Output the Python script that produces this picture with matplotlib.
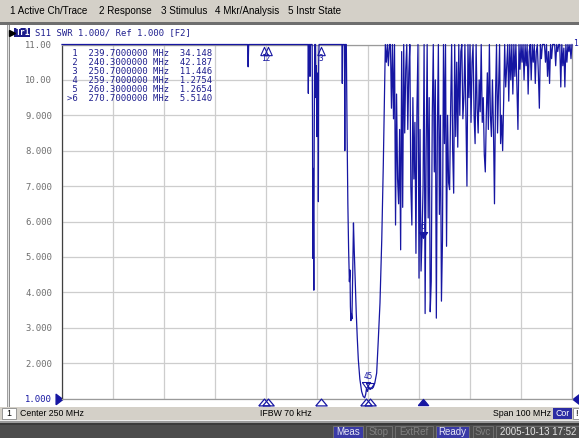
import numpy as np
import matplotlib
matplotlib.use("Agg")
import matplotlib.pyplot as plt
from matplotlib.patches import Rectangle
from matplotlib.transforms import ScaledTranslation

# S11 SWR sweep 200..300 MHz, values > 11 are off scale
start_mhz = 200.0
stop_mhz = 300.0
ref_swr = 1.0
scale_swr = 1.0

low_freq = [200.0, 236.4, 236.5, 236.6,
            248.25, 248.30, 248.36, 248.58, 248.63, 248.70,
            249.05, 249.12, 249.17, 249.24, 249.30, 249.38, 249.45, 249.55,
            249.72, 249.80, 249.88, 249.96, 250.03, 250.10, 250.20, 250.27, 250.33, 250.40,
            254.90, 254.96, 255.02, 255.38, 255.45, 255.52,
            255.75, 255.90, 256.05, 256.20, 256.35, 256.47, 256.55, 256.65, 256.75, 256.85,
            257.00, 257.15, 257.30, 257.50, 257.70, 257.90, 258.10, 258.40, 258.75, 259.05,
            259.35, 259.55, 259.70, 259.90, 260.10, 260.30, 260.55, 260.80, 261.05, 261.35,
            261.70, 262.00, 262.35, 262.70, 263.00]
low_swr = [12, 12, 10.37, 12,
           12, 9.62, 12, 12, 10.1, 12,
           12, 8.96, 4.96, 7.5, 5.8, 4.06, 8.2, 12,
           12, 9.5, 10.4, 8.4, 9.8, 8.9, 10.2, 6.56, 10.5, 12,
           12, 9.9, 12, 12, 8.0, 12,
           12, 8.5, 6.5, 5.2, 4.3, 4.63, 3.6, 3.2, 3.4, 3.25,
           4.5, 5.96, 5.2, 4.3, 3.4, 2.7, 2.1, 1.55, 1.2, 1.06,
           1.02, 1.12, 1.2754, 1.2, 1.32, 1.2654, 1.3, 1.28, 1.32, 1.45,
           1.72, 2.6, 3.7, 5.5, 7.6]

# ripple part of the sweep, 0.2 MHz per point from 263.4 to 300 MHz
ripple_start = 263.4
ripple_stop = 300.0
ripple_swr = [
    12, 10.5, 12,
    10.4, 12, 11.2, 9.2, 12,
    8.9, 11.0, 5.9, 9.6, 7.2,
    6.5, 8.6, 5.2, 10.8, 6.4,
    12, 8.5, 10.3, 12, 8.6,
    10.2, 12, 7.0, 5.9, 9.5,
    7.2, 8.8, 5.1, 9.2, 12,
    4.4, 8.6, 4.6, 5.6, 7.0,
    12, 3.4, 8.0, 12, 6.1,
    9.5, 3.45, 4.3, 9.0, 12,
    7.4, 10.0, 3.27, 8.5, 12,
    6.2, 9.0, 3.75, 5.45, 12,
    8.2, 11.0, 5.3, 9.0, 7.1,
    6.9, 9.2, 12, 8.0, 6.8,
    12, 8.4, 10.5, 8.1, 12,
    9.0, 10.8, 12, 8.9, 9.5,
    12, 9.0, 7.0, 12, 9.5,
    12, 8.8, 10.5, 12, 9.0,
    8.2, 12, 9.2, 8.5, 10.0,
    9.1, 12, 8.8, 9.5, 7.9,
    7.4, 9.0, 10.2, 8.6, 12,
    9.0, 8.4, 10.0, 8.6, 6.5,
    9.5, 12, 8.5, 9.8, 12,
    8.2, 9.0, 8.0, 9.4, 12,
    9.8, 10.4, 12, 9.4, 12,
    10.0, 12, 9.6, 12, 10.1,
    12, 9.8, 8.6, 12, 10.3,
    12, 10.5, 12, 10.0, 12,
    10.4, 12, 9.6, 10.8, 12,
    10.0, 12, 10.5, 12, 9.9,
    10.8, 12, 10.2, 9.2, 12,
    10.6, 12, 11.2, 12, 10.5,
    12, 10.1, 10.8, 9.9, 12,
    10.6, 12, 11.0, 12, 10.4,
    12, 10.8, 12, 11.0, 9.8,
    12, 10.4, 10.9, 9.8, 12,
    10.5, 12, 10.8, 12, 10.6,
    12,
]

marker_freq = [239.7, 240.3, 250.7, 259.7, 260.3, 270.7]
marker_swr = [34.148, 42.187, 11.446, 1.2754, 1.2654, 5.5140]
active_marker = 6

menu_items = ["1 Active Ch/Trace", "2 Response", "3 Stimulus", "4 Mkr/Analysis", "5 Instr State"]
menu_x = [10, 99, 161, 215, 288]

W, H = 579, 438
BLUE = "#1616a2"
MONO = "DejaVu Sans Mono"
UI = "Liberation Sans"

fig = plt.figure(figsize=(W / 100, H / 100), dpi=100)
fig.patch.set_facecolor("white")

ax = fig.add_axes([62 / W, 1 - 398.5 / H, 510 / W, 354 / H], zorder=1)
ax.set_xlim(start_mhz, stop_mhz)
top = ref_swr + 10 * scale_swr
ax.set_ylim(ref_swr, top)
ax.set_xticks(np.linspace(start_mhz, stop_mhz, 11))
yt = [ref_swr + i * scale_swr for i in range(11)]
ax.set_yticks(yt)
ax.set_yticklabels([f"{v:#.4g}" for v in yt], fontfamily=MONO, fontsize=6.4, color="#6e6e6e")
ax.get_yticklabels()[0].set_color(BLUE)
ax.tick_params(length=0, labelbottom=False, pad=7)
ax.grid(color="#cdcdcd", lw=0.9)
ax.set_axisbelow(True)
for name, sp in ax.spines.items():
    sp.set_color("#404040" if name == "left" else "#9a9a9a")
    sp.set_linewidth(0.9)

freq = np.concatenate([low_freq, np.linspace(ripple_start, ripple_stop, len(ripple_swr))])
swr = np.minimum(np.concatenate([low_swr, ripple_swr]), top)
ax.plot(freq, swr, color=BLUE, lw=0.9, clip_on=False, zorder=3)


def px(dx, dy):
    return ax.transData + ScaledTranslation(dx / 100, dy / 100, fig.dpi_scale_trans)


def bpx(dx, dy):
    return ax.get_xaxis_transform() + ScaledTranslation(dx / 100, dy / 100, fig.dpi_scale_trans)


up_wide = [(-1, -0.6), (1, -0.6), (0, 0.6), (-1, -0.6)]
up_small = [(-0.45, -0.5), (0.45, -0.5), (0, 0.5), (-0.45, -0.5)]
down = [(-0.7, 0.5), (0.7, 0.5), (0, -0.5), (-0.7, 0.5)]

for i, (f, v) in enumerate(zip(marker_freq, marker_swr), start=1):
    act = i == active_marker
    # stimulus position under the grid
    ax.plot([f], [0], marker=up_wide, ms=8.2 if not act else 7.4, mec=BLUE, mew=0.9,
            mfc=BLUE if act else "none", transform=bpx(0, -3.5), clip_on=False, zorder=4)
    if v > top:
        ax.plot([f], [top], marker=up_small, ms=6, mec=BLUE, mew=0.8, mfc="none",
                transform=px(0, -6), clip_on=False, zorder=4)
    else:
        ax.plot([f], [v], marker=down, ms=6, mec=BLUE, mew=0.8,
                mfc=BLUE if act else "none", transform=px(0, 3.5), clip_on=False, zorder=4)

# marker numbers: markers closer than 1 MHz share one label
groups = []
for i, (f, v) in enumerate(zip(marker_freq, marker_swr), start=1):
    if groups and f - groups[-1][0][1] < 1.0 and (v > top) == (groups[-1][0][2] > top):
        groups[-1].append((i, f, v))
    else:
        groups.append([(i, f, v)])
for g in groups:
    name = "".join(str(i) for i, _, _ in g)
    fm = np.mean([f for _, f, _ in g])
    vm = np.mean([v for _, _, v in g])
    if vm > top:
        ax.text(fm, top, name, transform=px(0, -14), ha="center", va="center",
                fontfamily=MONO, fontsize=5.6, color=BLUE, zorder=4)
    else:
        ax.text(fm, vm, name, transform=px(0, 12), ha="center", va="center",
                fontfamily=MONO, fontsize=5.6, color=BLUE, zorder=4)

# reference level arrows
ref_left = [(-0.65, -1), (0.65, 0), (-0.65, 1), (-0.65, -1)]
ref_right = [(0.65, -1), (-0.65, 0), (0.65, 1), (0.65, -1)]
ax.plot([0], [ref_swr], marker=ref_left, ms=7.5, color=BLUE, clip_on=False,
        transform=ax.get_yaxis_transform() + ScaledTranslation(-3.2 / 100, 0, fig.dpi_scale_trans))
ax.plot([1], [ref_swr], marker=ref_right, ms=7.5, color=BLUE, clip_on=False,
        transform=ax.get_yaxis_transform() + ScaledTranslation(3.5 / 100, 0, fig.dpi_scale_trans))

# screen chrome drawn in pixel coordinates
ui = fig.add_axes([0, 0, 1, 1], zorder=2)
ui.set_xlim(0, W)
ui.set_ylim(H, 0)
ui.set_axis_off()
ui.patch.set_alpha(0)


def box(x, y, w, h, fc, ec="none", lw=0.0):
    ui.add_patch(Rectangle((x, y), w, h, fc=fc, ec=ec, lw=lw))


def label(x, y, s, **kw):
    opts = dict(va="center", ha="left", fontfamily=UI, fontsize=6.3, color="black")
    opts.update(kw)
    ui.text(x, y, s, **opts)


box(0, 0, W, 21.5, "#d4d0c8")
box(0, 21.5, W, 0.8, "#f4f4f4")
box(0, 22.3, W, 2.2, "#6e6e6e")
for s, x in zip(menu_items, menu_x):
    label(x, 11, s, fontsize=7.1)

box(6.7, 24.5, 1.3, 382, "#a0a0a0")
box(8.0, 24.5, 1.0, 382, "#e4e4e4")
box(9.0, 24.5, 1.3, 382, "#8c8c8c")

# trace title
ui.plot([11.5], [32.5], marker=">", ms=4.5, color="black")
box(14, 28, 16, 9, "#1c1c8a")
label(15.5, 32.6, "Tr1", fontfamily=MONO, fontsize=5.8, color="white", fontweight="bold")
label(35, 32.6, "S11 SWR 1.000/ Ref 1.000 [F2]", fontfamily=MONO, fontsize=6.4, color="#1e1e8e")

# marker table
for i, (f, v) in enumerate(zip(marker_freq, marker_swr), start=1):
    tag = f">{i}" if i == active_marker else f" {i}"
    row = f"{tag}  {f:.7f} MHz  {v:#.5g}"
    label(67, 54 + (i - 1) * 8.85, row, fontfamily=MONO, fontsize=6.4, color="#1e1e8e")

label(573.5, 43, "1", fontfamily=MONO, fontsize=5.8, color=BLUE)

# status bar
box(0, 406.5, W, 13, "#d4d0c8")
box(0, 419.5, W, 1, "#ececec")
box(0, 420.5, W, 2, "#9a9a9a")
box(0, 422.5, W, 2, "#3a3a3a")
box(0, 424.5, W, 13.5, "#4c4c4c")

box(1.5, 408.2, 14, 10.5, "white", "#8a8a8a", 0.6)
label(6.5, 413.6, "1")
label(20.5, 413.6, "Center 250 MHz")
label(260, 413.6, "IFBW 70 kHz")
label(493, 413.6, "Span 100 MHz")
box(553, 408.2, 18.5, 10.5, "#2c2ca4")
label(562.2, 413.6, "Cor", ha="center", color="white")
box(573, 408.2, 6.5, 10.5, "white", "#8a8a8a", 0.6)
label(576.2, 413.6, "!", ha="center")

for text, x0, x1, fc, tc in [("Meas", 333, 363, "#3a3aa6", "#e6e6f4"),
                             ("Stop", 366, 392, "#4c4c4c", "#808080"),
                             ("ExtRef", 395, 433, "#4c4c4c", "#808080"),
                             ("Ready", 436, 469, "#3a3aa6", "#e6e6f4"),
                             ("Svc", 473, 493, "#4c4c4c", "#808080"),
                             ("2005-10-13 17:52", 496, 580, "#4c4c4c", "#e4e4e4")]:
    box(x0, 425.5, x1 - x0, 12, fc, "#707070", 0.7)
    label((x0 + x1) / 2, 431.6, text, ha="center", color=tc, fontsize=7.0)

fig.savefig("out.png", dpi=100)
